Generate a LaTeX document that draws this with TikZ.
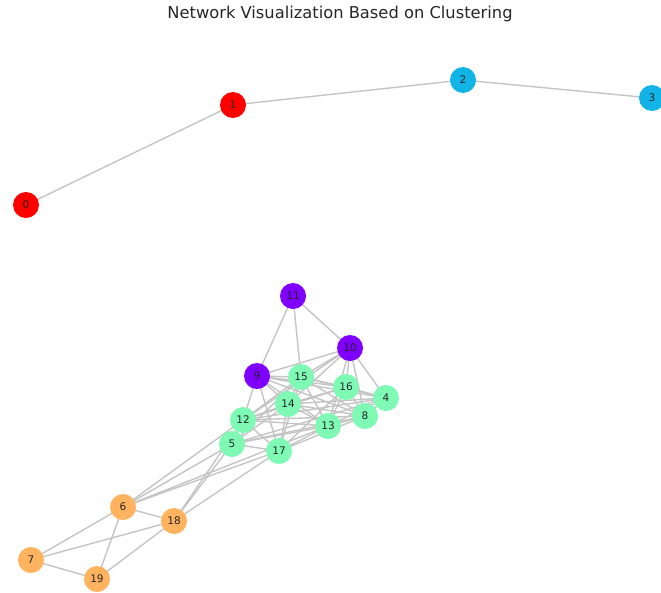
\documentclass[tikz,border=0pt]{standalone}
\usepackage{fontspec}
\setmainfont{DejaVu Sans}
\usetikzlibrary{backgrounds}
\definecolor{cred}{HTML}{FF0000}
\definecolor{cblue}{HTML}{12B4E8}
\definecolor{cpurple}{HTML}{7F00FF}
\definecolor{cgreen}{HTML}{7EFAB4}
\definecolor{corange}{HTML}{FFB35F}
\definecolor{edgegray}{HTML}{C4C4C4}
\tikzset{
  vertex/.style={circle, minimum size=26pt, inner sep=0pt, draw=none,
    font=\fontsize{10.5}{12}\selectfont, text=black!85},
  edge/.style={draw=edgegray, line width=1.4pt},
}
\begin{document}
\begin{tikzpicture}[x=1pt, y=-1pt]
\useasboundingbox (0,0) rectangle (661,592);
\node[font=\fontsize{16.3}{19}\selectfont, text=black!85] (title) at (340,14) {Network Visualization Based on Clustering};

% vertices, coloured by cluster
\node[vertex, fill=cred]    (n0)  at (26,205)  {0};
\node[vertex, fill=cred]    (n1)  at (233,105) {1};
\node[vertex, fill=cblue]   (n2)  at (463,80)  {2};
\node[vertex, fill=cblue]   (n3)  at (652,98)  {3};
\node[vertex, fill=cpurple] (n11) at (293,296) {11};
\node[vertex, fill=cpurple] (n10) at (350,348) {10};
\node[vertex, fill=cpurple] (n9)  at (257,376) {9};
\node[vertex, fill=cgreen]  (n15) at (301,377) {15};
\node[vertex, fill=cgreen]  (n16) at (346,387) {16};
\node[vertex, fill=cgreen]  (n4)  at (386,398) {4};
\node[vertex, fill=cgreen]  (n14) at (288,404) {14};
\node[vertex, fill=cgreen]  (n8)  at (365,416) {8};
\node[vertex, fill=cgreen]  (n12) at (243,420) {12};
\node[vertex, fill=cgreen]  (n13) at (328,426) {13};
\node[vertex, fill=cgreen]  (n5)  at (232,444) {5};
\node[vertex, fill=cgreen]  (n17) at (279,451) {17};
\node[vertex, fill=corange] (n6)  at (123,507) {6};
\node[vertex, fill=corange] (n18) at (174,521) {18};
\node[vertex, fill=corange] (n7)  at (31,560)  {7};
\node[vertex, fill=corange] (n19) at (97,579)  {19};

% edges
\begin{scope}[on background layer]
\foreach \a/\b in {
  0/1, 1/2, 2/3,
  11/9, 11/15, 11/10,
  10/9, 10/15, 10/14, 10/16, 10/8, 10/4, 10/13, 10/12,
  9/15, 9/16, 9/4, 9/14, 9/13, 9/8, 9/12, 9/17,
  4/16, 4/8, 4/13, 4/14, 4/15, 4/12, 4/5,
  8/16, 8/13, 8/14, 8/15, 8/12, 8/5, 8/17,
  16/15, 16/14, 16/13, 16/12, 16/17,
  15/14, 15/13, 15/12, 15/5, 15/17,
  14/13, 14/12, 14/5, 14/17,
  13/12, 13/5, 13/17,
  12/5, 12/17, 5/17,
  6/12, 6/5, 6/17, 6/13,
  18/5, 18/12, 18/17,
  6/18, 6/7, 6/19, 18/7, 18/19, 7/19}
  \draw[edge] (n\a.center) -- (n\b.center);
\end{scope}
\end{tikzpicture}
\end{document}
